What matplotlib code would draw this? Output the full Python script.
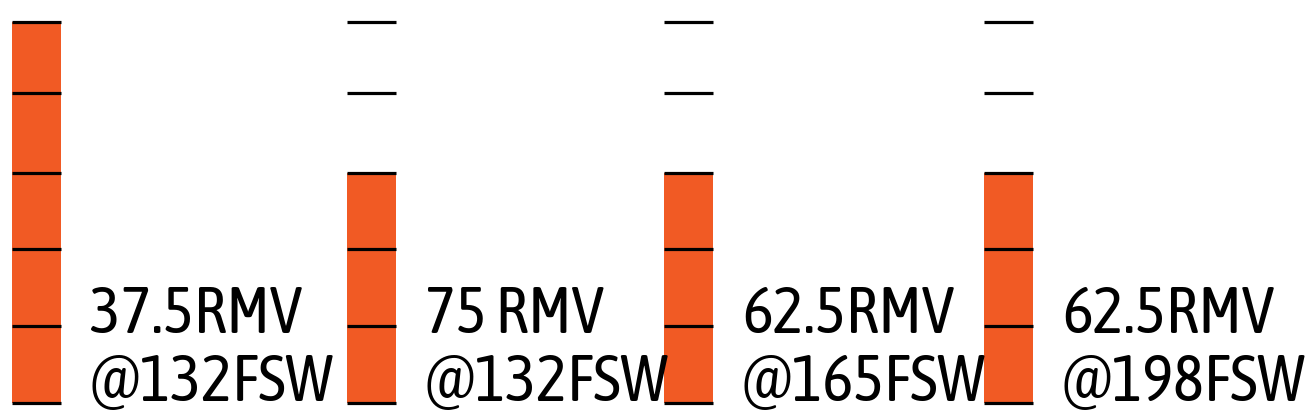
# Gas supply bars: full cylinder vs. segments left at each RMV / depth

import matplotlib
matplotlib.use('Agg')
import matplotlib.pyplot as plt

# -------------------------
# Data
# -------------------------
# segment boundaries (same scale for every bar, bottom to top)
levels = [0, 77, 154, 230, 310, 381]
# how many segments of each bar are filled
filled = [5, 3, 3, 3]
rmv_labels = ['37.5RMV', '75 RMV', '62.5RMV', '62.5RMV']
depth_labels = ['@132FSW', '@132FSW', '@165FSW', '@198FSW']

# -------------------------
# Layout / style
# -------------------------
bar_x = [36.5, 371.3, 688.3, 1008.3]   # bar centres (pixel-like units)
bar_w = 49
orange = '#F15A24'
font = ['Asap Condensed', 'Liberation Sans', 'DejaVu Sans']

fig = plt.figure(figsize=(13.1, 4.15), dpi=100)
ax = fig.add_axes([0, 0, 1, 1])
ax.set_xlim(0, 1310)
ax.set_ylim(-12.3, 402.7)
ax.axis('off')

for x, n, top, bottom in zip(bar_x, filled, rmv_labels, depth_labels):
    for k in range(n):
        ax.bar(x, levels[k + 1] - levels[k], bottom=levels[k], width=bar_w,
               color=orange, linewidth=0)
    ax.hlines(levels, x - bar_w / 2, x + bar_w / 2, colors='black',
              linewidth=2.3)
    tx = x + bar_w / 2 + 29
    ax.text(tx, 70, top, fontsize=47, family=font, va='baseline', ha='left')
    ax.text(tx, 1.7, bottom, fontsize=47, family=font, va='baseline', ha='left')

fig.savefig('out.png', dpi=100)
